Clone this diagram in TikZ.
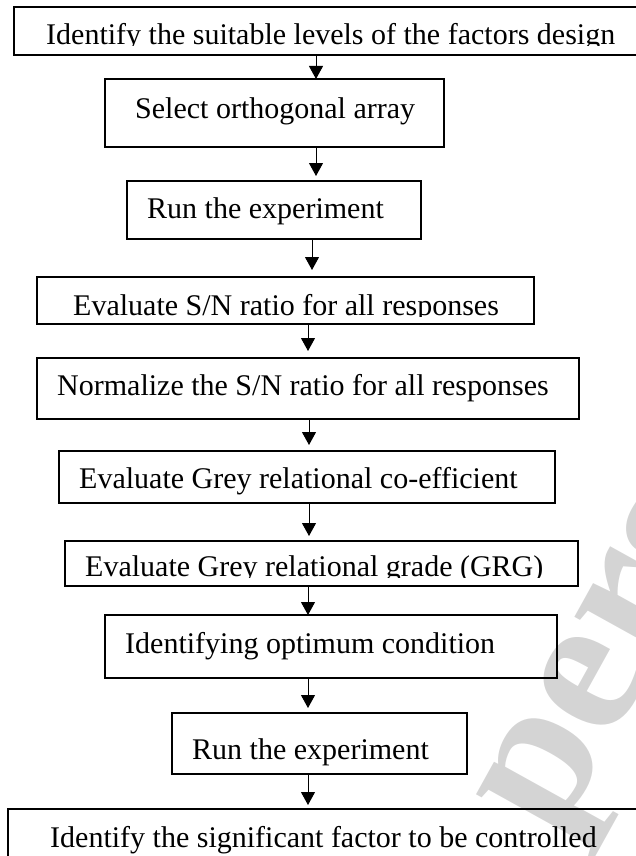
\documentclass[tikz,border=0pt]{standalone}
\usepackage{fontspec}
\setmainfont{Liberation Serif}
\usetikzlibrary{arrows.meta}
\begin{document}
\begin{tikzpicture}[x=1pt,y=-1pt,
  box/.style={draw, line width=1.5pt, inner sep=0pt, outer sep=0pt},
  lbl/.style={anchor=base west, inner sep=0pt, font=\fontsize{30}{36}\selectfont},
  arr/.style={line width=1pt, -{Triangle[width=14pt,length=13pt]}}]
\useasboundingbox (0,0) rectangle (636,856);
\clip (0,0) rectangle (636,856);
% watermark
\node[rotate=61, anchor=base west, inner sep=0pt, text=black!17,
      font=\bfseries\fontsize{200}{200}\selectfont] (wm) at (555,842) {pers};
% boxes
\node[box, minimum width=646pt, minimum height=48pt] (b1) at (337,31) {};
\node[box, minimum width=339pt, minimum height=68pt] (b2) at (274.5,113) {};
\node[box, minimum width=294pt, minimum height=58pt] (b3) at (274,210) {};
\node[box, minimum width=497pt, minimum height=47pt] (b4) at (285.5,300.5) {};
\node[box, minimum width=542pt, minimum height=61pt] (b5) at (308,388.5) {};
\node[box, minimum width=496pt, minimum height=52pt] (b6) at (307,477) {};
\node[box, minimum width=513pt, minimum height=45pt] (b7) at (321.5,563.5) {};
\node[box, minimum width=452pt, minimum height=63pt] (b8) at (331,646.5) {};
\node[box, minimum width=295pt, minimum height=61pt] (b9) at (319.5,743.5) {};
\node[box, minimum width=652pt, minimum height=71pt] (b10) at (334,844.5) {};
% texts
\begin{scope}
  \clip (0,0) rectangle (636,46);
  \node[lbl] (t1) at (46,45) {Identify the suitable levels of the factors design};
\end{scope}
\node[lbl] (t2) at (135,118) {Select orthogonal array};
\node[lbl] (t3) at (147,218) {Run the experiment};
\begin{scope}
  \clip (0,260) rectangle (636,316);
  \node[lbl] (t4) at (73,315) {Evaluate S/N ratio for all responses};
\end{scope}
\node[lbl] (t5) at (57,395) {Normalize the S/N ratio for all responses};
\node[lbl] (t6) at (79,488) {Evaluate Grey relational co-efficient};
\begin{scope}
  \clip (0,530) rectangle (636,577);
  \node[lbl] (t7) at (85,576) {Evaluate Grey relational grade (GRG)};
\end{scope}
\node[lbl] (t8) at (125,653) {Identifying optimum condition};
\node[lbl] (t9) at (192,759) {Run the experiment};
\node[lbl] (t10) at (50,847) {Identify the significant factor to be controlled};
% arrow columns
\coordinate (xa) at (316,0);
\coordinate (xb) at (312,0);
\coordinate (xc) at (308,0);
\coordinate (xd) at (309,0);
% connectors
\draw[arr] (b1.south -| xa) -- (b2.north -| xa);
\draw[arr, shorten >=5pt] (b2.south -| xa) -- (b3.north -| xa);
\draw[arr, shorten >=7pt] (b3.south -| xb) -- (b4.north -| xb);
\draw[arr, shorten >=7pt] (b4.south -| xc) -- (b5.north -| xc);
\draw[arr, shorten >=6pt] (b5.south -| xd) -- (b6.north -| xd);
\draw[arr, shorten >=5pt] (b6.south -| xd) -- (b7.north -| xd);
\draw[arr] (b7.south -| xc) -- (b8.north -| xc);
\draw[arr, shorten >=5pt] (b8.south -| xc) -- (b9.north -| xc);
\draw[arr, shorten >=4pt] (b9.south -| xc) -- (b10.north -| xc);
\end{tikzpicture}
\end{document}
